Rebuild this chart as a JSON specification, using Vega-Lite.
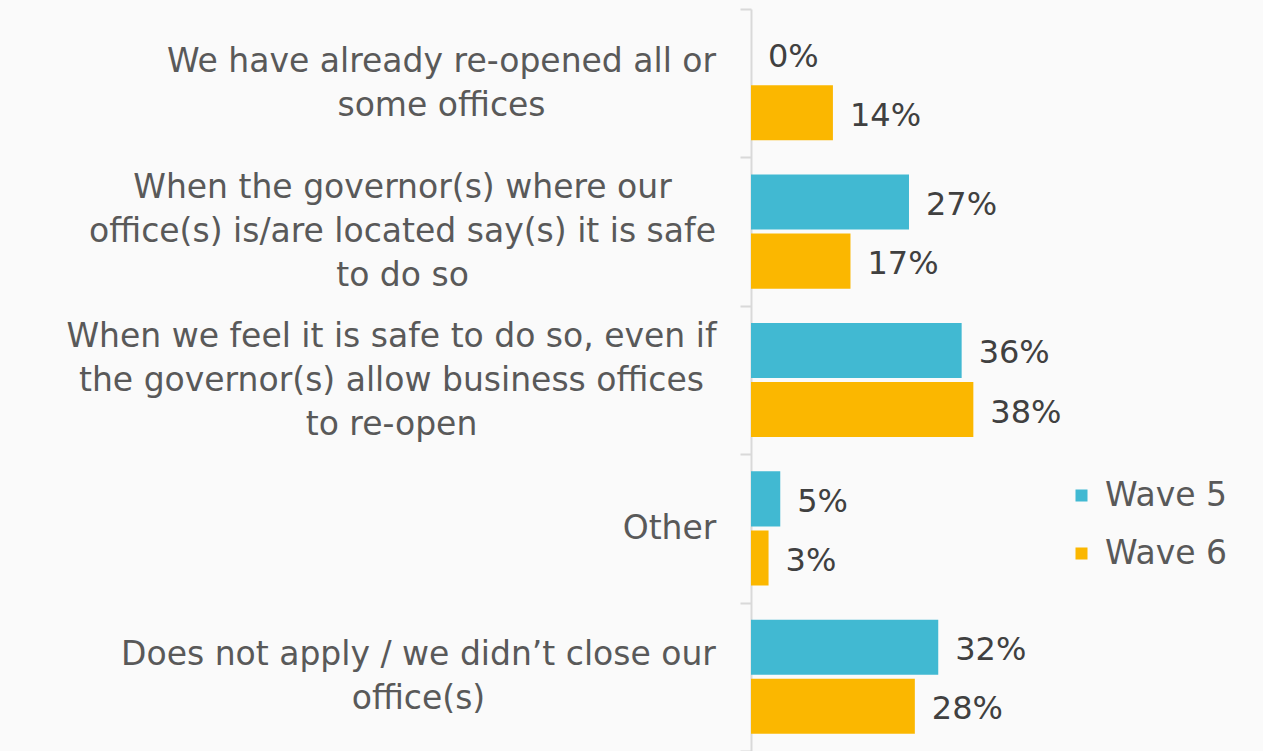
{
  "$schema": "https://vega.github.io/schema/vega-lite/v6.json",
  "autosize": "none",
  "padding": {"left": 751, "top": 9, "right": 0, "bottom": 0},
  "width": 512,
  "height": 742,
  "background": "#fafafa",
  "config": {"view": {"stroke": null}, "font": "DejaVu Sans"},
  "data": {
    "values": [
      {"category": "We have already re-opened all or|some offices", "wave": "Wave 5", "value": 0},
      {"category": "We have already re-opened all or|some offices", "wave": "Wave 6", "value": 0.14},
      {"category": "When the governor(s) where our|office(s) is/are located say(s) it is safe|to do so", "wave": "Wave 5", "value": 0.27},
      {"category": "When the governor(s) where our|office(s) is/are located say(s) it is safe|to do so", "wave": "Wave 6", "value": 0.17},
      {"category": "When we feel it is safe to do so, even if|the governor(s) allow business offices|to re-open", "wave": "Wave 5", "value": 0.36},
      {"category": "When we feel it is safe to do so, even if|the governor(s) allow business offices|to re-open", "wave": "Wave 6", "value": 0.38},
      {"category": "Other", "wave": "Wave 5", "value": 0.05},
      {"category": "Other", "wave": "Wave 6", "value": 0.03},
      {"category": "Does not apply / we didn’t close our|office(s)", "wave": "Wave 5", "value": 0.32},
      {"category": "Does not apply / we didn’t close our|office(s)", "wave": "Wave 6", "value": 0.28}
    ]
  },
  "encoding": {
    "y": {
      "field": "category",
      "type": "nominal",
      "sort": null,
      "scale": {"paddingInner": 0, "paddingOuter": 0},
      "axis": {
        "title": null,
        "labelExpr": "split(datum.label, '|')",
        "labelFontSize": 33,
        "labelColor": "#595959",
        "labelLineHeight": 44,
        "labelBaseline": "middle",
        "labelAlign": "center",
        "labelOffset": {
          "condition": [
            {"test": "length(split(datum.label, '|')) == 3", "value": -44},
            {"test": "length(split(datum.label, '|')) == 2", "value": -22}
          ],
          "value": 0
        },
        "labelPadding": {
          "condition": [
            {"test": "indexof(datum.label, 'We have') == 0", "value": 299},
            {"test": "indexof(datum.label, 'When the') == 0", "value": 338},
            {"test": "indexof(datum.label, 'When we') == 0", "value": 349},
            {"test": "indexof(datum.label, 'Does not') == 0", "value": 322}
          ],
          "value": 71
        },
        "labelLimit": 800,
        "tickBand": "extent",
        "tickSize": 11,
        "tickColor": "#d9d9d9",
        "tickWidth": 2,
        "domainColor": "#d9d9d9",
        "domainWidth": 2
      }
    },
    "yOffset": {
      "field": "wave",
      "type": "nominal",
      "scale": {"paddingInner": 0.068, "paddingOuter": 0.29}
    },
    "x": {
      "field": "value",
      "type": "quantitative",
      "scale": {"domain": [0, 0.875], "nice": false},
      "axis": null
    }
  },
  "layer": [
    {
      "mark": {"type": "bar"},
      "encoding": {
        "color": {
          "field": "wave",
          "type": "nominal",
          "scale": {"domain": ["Wave 5", "Wave 6"], "range": ["#41B9D2", "#FBB700"]},
          "legend": {
            "title": null,
            "orient": "none",
            "legendX": 314,
            "legendY": 470,
            "symbolType": "square",
            "symbolSize": 144,
            "symbolStrokeWidth": 0,
            "labelFontSize": 33,
            "labelColor": "#595959",
            "labelOffset": 7,
            "rowPadding": 24
          }
        }
      }
    },
    {
      "mark": {"type": "text", "align": "left", "baseline": "middle", "dx": 17, "dy": 3, "fontSize": 32, "color": "#404040"},
      "encoding": {
        "text": {"field": "value", "type": "quantitative", "format": ".0%"}
      }
    }
  ]
}
